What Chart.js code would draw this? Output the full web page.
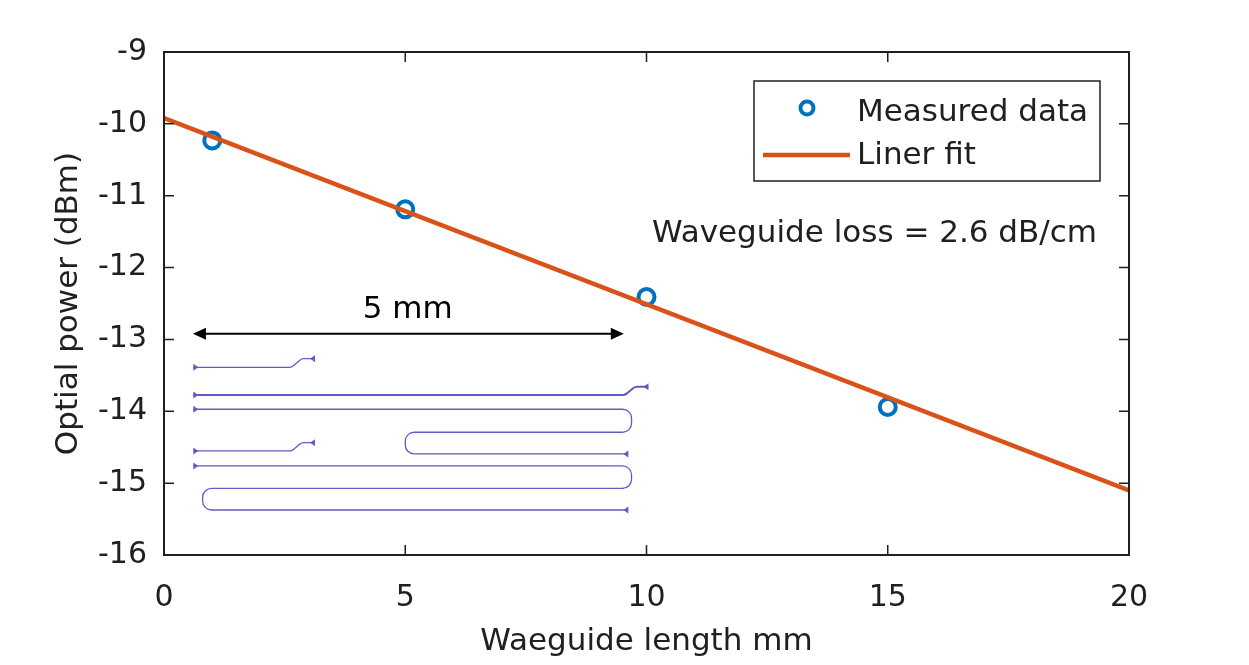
<!DOCTYPE html>
<html>
<head>
<meta charset="utf-8">
<title>Waveguide loss</title>
<script src="https://cdn.jsdelivr.net/npm/chart.js@4/dist/chart.umd.min.js"></script>
<style>
  html, body { margin: 0; padding: 0; background: #fff; }
  #wrap { width: 1249px; height: 665px; }
</style>
</head>
<body>
<div id="wrap"><canvas id="lossChart" width="1249" height="665"></canvas></div>
<script>
// measured points (mm, dBm)
const lengthsMm = [1, 5, 10, 15];
const powerDbm = [-10.23, -11.19, -12.41, -13.94];

// linear fit end points
const fitX = [0, 20];
const fitY = [-9.92, -15.1];

const xTicks = [0, 5, 10, 15, 20];
const yTicks = [-16, -15, -14, -13, -12, -11, -10, -9];

const lossLabel = 'Waveguide loss = 2.6 dB/cm';
const scaleBarLabel = '5 mm';
const scaleBarX = [0.6, 9.53];
const scaleBarY = -12.92;

// inset layout sketch, in axis units (mm, dBm)
const layoutPaths = [
  [[0.607, -13.388], [2.647, -13.388], [2.85, -13.268], [3.13, -13.268]],
  [[0.607, -13.773], [9.554, -13.773], [9.762, -13.658], [10.04, -13.658]],
  [[0.607, -13.972], [9.69, -13.972], [9.69, -14.292], [5.0, -14.292], [5.0, -14.594], [9.623, -14.594]],
  [[0.607, -14.552], [2.647, -14.552], [2.85, -14.437], [3.13, -14.437]],
  [[0.607, -14.761], [9.69, -14.761], [9.69, -15.072], [0.8, -15.072], [0.8, -15.374], [9.623, -15.374]]
];

const FONT = 'DejaVu Sans';
const INK = '#202020';
const BLUE = 'rgb(0,114,189)';
const ORANGE = 'rgb(217,83,25)';
const WG = '#5d5dc6';

const matlabFrame = {
  id: 'matlabFrame',
  afterDraw(chart) {
    const { ctx, chartArea: a, scales: { x, y } } = chart;
    ctx.save();

    // inset waveguide layout
    ctx.strokeStyle = WG;
    ctx.fillStyle = WG;
    layoutPaths.forEach((path, i) => {
      const pts = path.map(p => [x.getPixelForValue(p[0]), y.getPixelForValue(p[1])]);
      ctx.lineWidth = i === 1 ? 2 : 1.3;
      ctx.beginPath();
      ctx.moveTo(pts[0][0], pts[0][1]);
      for (let k = 1; k < pts.length - 1; k++) {
        const r = pts.length > 4 ? 9 : 6;
        ctx.arcTo(pts[k][0], pts[k][1], pts[k + 1][0], pts[k + 1][1], r);
      }
      const last = pts[pts.length - 1];
      ctx.lineTo(last[0], last[1]);
      ctx.stroke();
      // tapers at both ends
      const s = pts[0];
      ctx.beginPath();
      ctx.moveTo(s[0], s[1] - 3.5);
      ctx.lineTo(s[0], s[1] + 3.5);
      ctx.lineTo(s[0] + 5, s[1]);
      ctx.closePath();
      ctx.fill();
      ctx.beginPath();
      ctx.moveTo(last[0], last[1] - 3.5);
      ctx.lineTo(last[0], last[1] + 3.5);
      ctx.lineTo(last[0] - 5, last[1]);
      ctx.closePath();
      ctx.fill();
    });

    // 5 mm scale bar
    const bx0 = x.getPixelForValue(scaleBarX[0]);
    const bx1 = x.getPixelForValue(scaleBarX[1]);
    const by = y.getPixelForValue(scaleBarY);
    ctx.strokeStyle = '#000';
    ctx.fillStyle = '#000';
    ctx.lineWidth = 2;
    ctx.beginPath();
    ctx.moveTo(bx0 + 6, by);
    ctx.lineTo(bx1 - 6, by);
    ctx.stroke();
    ctx.beginPath();
    ctx.moveTo(bx0, by);
    ctx.lineTo(bx0 + 13, by - 6);
    ctx.lineTo(bx0 + 13, by + 6);
    ctx.closePath();
    ctx.fill();
    ctx.beginPath();
    ctx.moveTo(bx1, by);
    ctx.lineTo(bx1 - 13, by - 6);
    ctx.lineTo(bx1 - 13, by + 6);
    ctx.closePath();
    ctx.fill();
    ctx.font = '31px "' + FONT + '"';
    ctx.textAlign = 'center';
    ctx.textBaseline = 'alphabetic';
    ctx.fillText(scaleBarLabel, x.getPixelForValue(5.05), by - 16);

    // loss annotation
    ctx.fillStyle = INK;
    ctx.font = '31px "' + FONT + '"';
    ctx.textAlign = 'right';
    ctx.fillText(lossLabel, a.right - 32, a.top + 190);

    // box and inward ticks
    ctx.strokeStyle = INK;
    ctx.lineWidth = 2;
    ctx.strokeRect(a.left, a.top, a.right - a.left, a.bottom - a.top);
    ctx.lineWidth = 1.5;
    ctx.beginPath();
    x.ticks.forEach(t => {
      const px = x.getPixelForValue(t.value);
      ctx.moveTo(px, a.bottom); ctx.lineTo(px, a.bottom - 10);
      ctx.moveTo(px, a.top); ctx.lineTo(px, a.top + 10);
    });
    y.ticks.forEach(t => {
      const py = y.getPixelForValue(t.value);
      ctx.moveTo(a.left, py); ctx.lineTo(a.left + 10, py);
      ctx.moveTo(a.right, py); ctx.lineTo(a.right - 10, py);
    });
    ctx.stroke();

    // legend
    const lx0 = a.right - 375, ly0 = a.top + 29, lw = 346, lh = 100;
    ctx.fillStyle = '#fff';
    ctx.fillRect(lx0, ly0, lw, lh);
    ctx.strokeStyle = INK;
    ctx.lineWidth = 1.5;
    ctx.strokeRect(lx0, ly0, lw, lh);
    const ds = chart.data.datasets;
    const measured = ds.find(d => d.label === 'Measured data');
    const fit = ds.find(d => d.label === 'Liner fit');
    ctx.strokeStyle = measured.borderColor;
    ctx.lineWidth = 4;
    ctx.beginPath();
    ctx.arc(lx0 + 53, ly0 + 27, 6.5, 0, Math.PI * 2);
    ctx.stroke();
    ctx.strokeStyle = fit.borderColor;
    ctx.lineWidth = 4.5;
    ctx.beginPath();
    ctx.moveTo(lx0 + 9, ly0 + 74);
    ctx.lineTo(lx0 + 96, ly0 + 74);
    ctx.stroke();
    ctx.fillStyle = INK;
    ctx.font = '31px "' + FONT + '"';
    ctx.textAlign = 'left';
    ctx.textBaseline = 'middle';
    ctx.fillText(measured.label, lx0 + 103, ly0 + 32);
    ctx.fillText(fit.label, lx0 + 103, ly0 + 75);

    ctx.restore();
  }
};

new Chart(document.getElementById('lossChart'), {
  type: 'scatter',
  data: {
    datasets: [
      {
        label: 'Measured data',
        data: lengthsMm.map((v, i) => ({ x: v, y: powerDbm[i] })),
        borderColor: BLUE,
        backgroundColor: 'rgba(0,0,0,0)',
        pointRadius: 8,
        pointBorderWidth: 4,
        pointHoverRadius: 8,
        order: 2
      },
      {
        label: 'Liner fit',
        data: fitX.map((v, i) => ({ x: v, y: fitY[i] })),
        showLine: true,
        borderColor: ORANGE,
        borderWidth: 4.5,
        pointRadius: 0,
        order: 1
      }
    ]
  },
  options: {
    responsive: false,
    animation: false,
    events: [],
    layout: { padding: { top: 52, right: 120, left: 0, bottom: 0 } },
    plugins: { legend: { display: false }, tooltip: { enabled: false } },
    scales: {
      x: {
        type: 'linear',
        min: 0, max: 20,
        afterBuildTicks: s => { s.ticks = xTicks.map(v => ({ value: v })); },
        afterFit: s => { s.height = 110; },
        grid: { display: false, drawTicks: false },
        border: { display: false },
        ticks: { padding: 25, color: INK, font: { family: FONT, size: 30 } },
        title: { display: true, text: 'Waeguide length mm', color: INK, padding: { top: 0, bottom: 4 }, font: { family: FONT, size: 31 } }
      },
      y: {
        type: 'linear',
        min: -16, max: -9,
        afterBuildTicks: s => { s.ticks = yTicks.map(v => ({ value: v })); },
        afterFit: s => { s.width = 164; },
        grid: { display: false, drawTicks: false },
        border: { display: false },
        ticks: { padding: 17, color: INK, font: { family: FONT, size: 30 } },
        title: { display: true, text: 'Optial power (dBm)', color: INK, padding: { top: 50, bottom: 0 }, font: { family: FONT, size: 31 } }
      }
    }
  },
  plugins: [matlabFrame]
});
</script>
</body>
</html>
